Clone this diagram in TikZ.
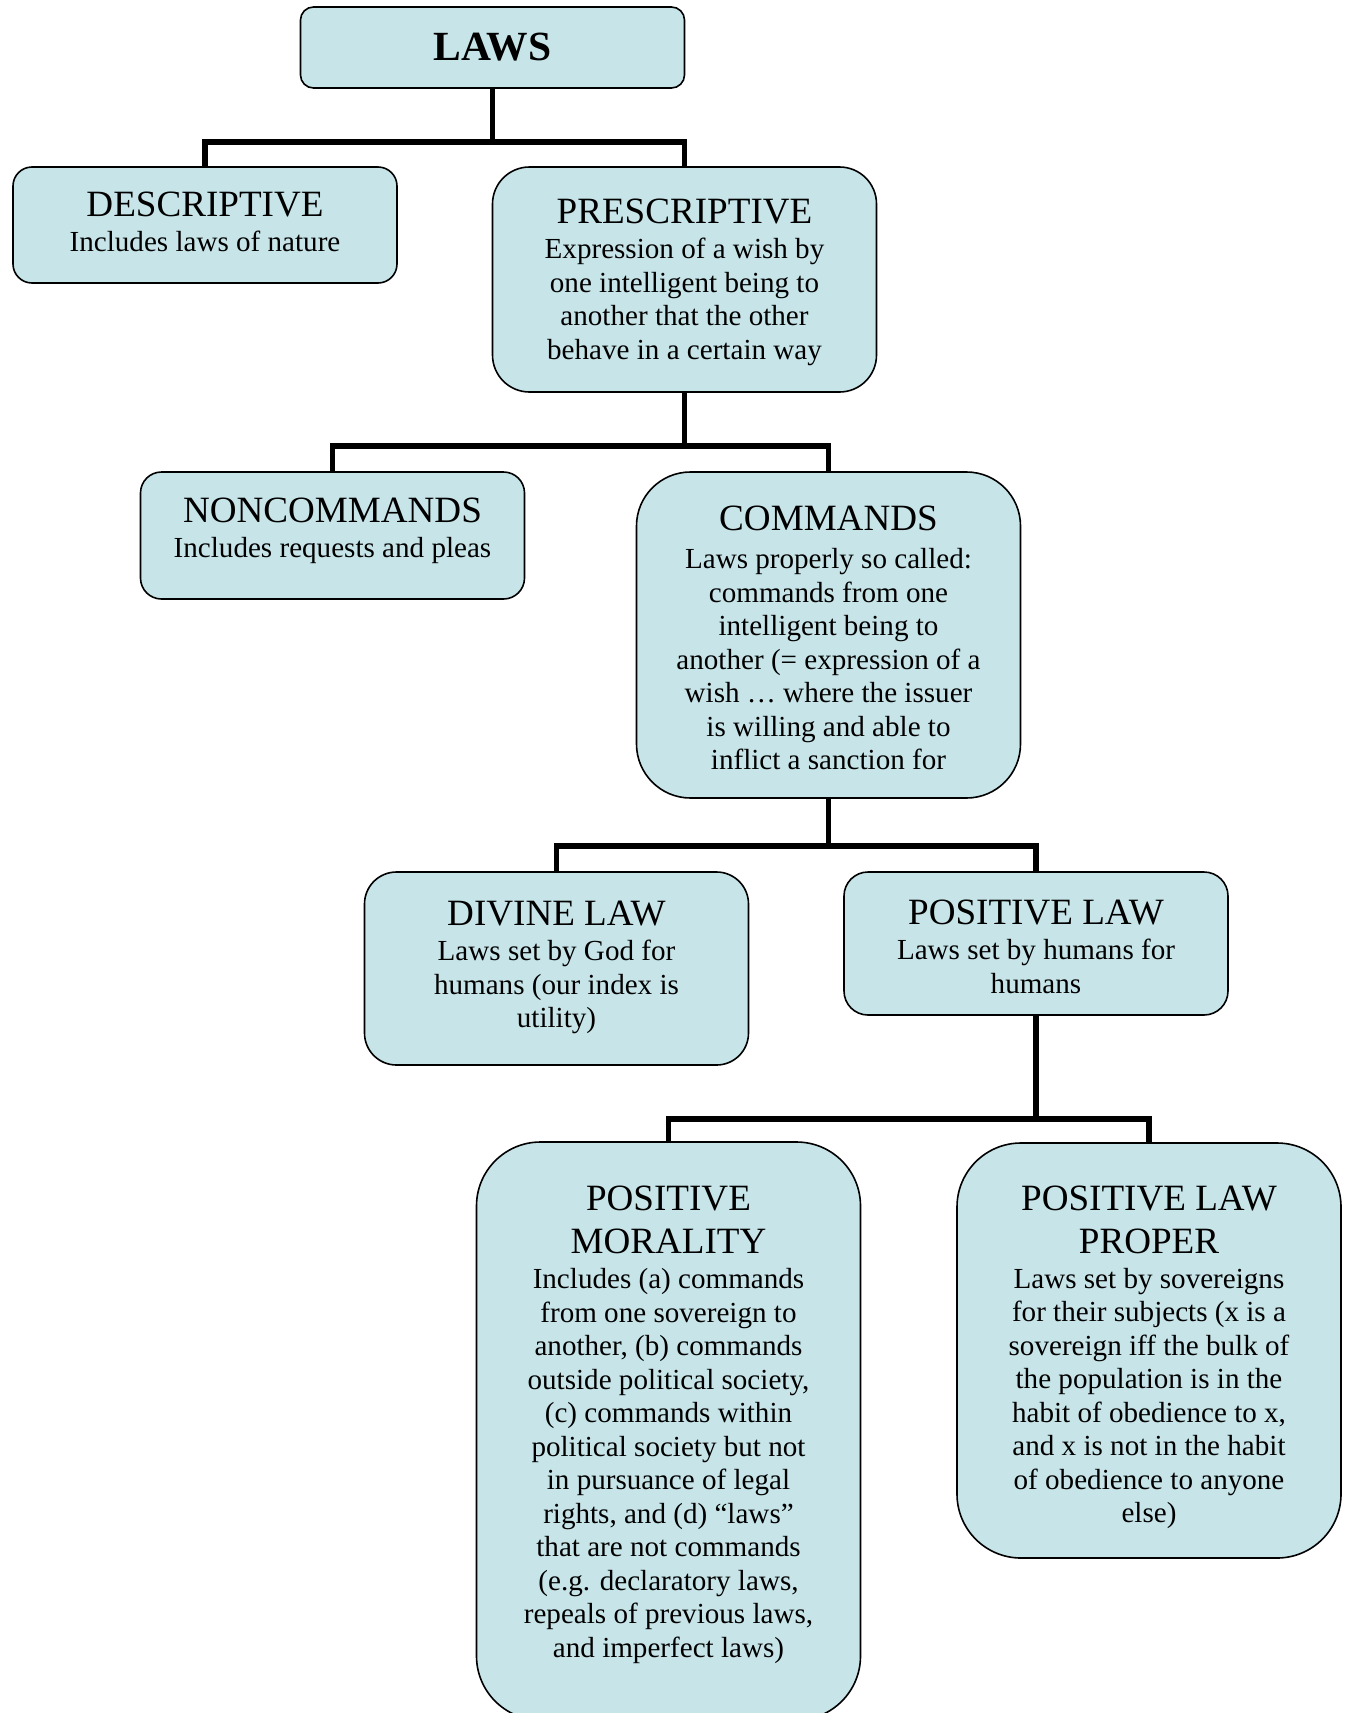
\documentclass[tikz,border=0pt]{standalone}
\usepackage{fontspec}
\setmainfont{Liberation Serif}
\usepackage{xcolor}
\usepackage{tikz}
\definecolor{boxblue}{RGB}{199,229,233}
\newcommand{\lawsfont}{\fontsize{41.5}{47}\selectfont\bfseries}
\newcommand{\headfont}{\fontsize{37.1}{42.7}\selectfont}
\newcommand{\bodyfont}{\fontsize{29.1}{33.5}\selectfont}

\begin{document}
\begin{tikzpicture}[x=1pt,y=-1pt,
  box/.style={draw=black,line width=1.6pt,fill=boxblue,inner sep=0pt,outer sep=0pt,minimum width=384pt},
  txt/.style={align=center,inner sep=0pt,anchor=north,font=\bodyfont},
  link/.style={line width=5.5pt}]
  \useasboundingbox (0,0) rectangle (1346,1713);
  % boxes
  \node[box,minimum height=81pt,rounded corners=13pt,font=\lawsfont] (laws) at (492.5,47.5) {LAWS};
  \node[box,minimum height=116pt,rounded corners=19pt] (desc) at (205,225) {};
  \node[box,minimum height=225pt,rounded corners=37pt] (presc) at (684.5,279.5) {};
  \node[box,minimum height=127pt,rounded corners=21pt] (noncmd) at (332.5,535.5) {};
  \node[box,minimum height=326pt,rounded corners=54pt] (cmd) at (828.5,635) {};
  \node[box,minimum height=193pt,rounded corners=32pt] (divine) at (556.5,968.5) {};
  \node[box,minimum height=143pt,rounded corners=24pt] (poslaw) at (1036,943.5) {};
  \node[box,minimum height=578pt,rounded corners=64pt] (posmor) at (668.5,1431) {};
  \node[box,minimum height=415pt,rounded corners=64pt] (plp) at (1149,1350.5) {};
  % texts
  \node[txt] (desc-t) at ([yshift=-24.7pt]desc.north) {{\headfont DESCRIPTIVE}\\[2pt]
    Includes laws of nature};
  \node[txt] (presc-t) at ([yshift=-31.7pt]presc.north) {{\headfont PRESCRIPTIVE}\\[2pt]
    Expression of a wish by\\ one intelligent being to\\ another that the other\\ behave in a certain way};
  \node[txt] (noncmd-t) at ([yshift=-25.7pt]noncmd.north) {{\headfont NONCOMMANDS}\\[2pt]
    Includes requests and pleas};
  \node[txt] (cmd-t) at ([yshift=-33.7pt]cmd.north) {{\headfont COMMANDS}\\[5pt]
    Laws properly so called:\\ commands from one\\ intelligent being to\\ another (= expression of a\\
    wish … where the issuer\\ is willing and able to\\ inflict a sanction for};
  \node[txt] (divine-t) at ([yshift=-28.7pt]divine.north) {{\headfont DIVINE LAW}\\[2pt]
    Laws set by God for\\ humans (our index is\\ utility)};
  \node[txt] (poslaw-t) at ([yshift=-27.7pt]poslaw.north) {{\headfont POSITIVE LAW}\\[2pt]
    Laws set by humans for\\ humans};
  \node[txt] (posmor-t) at ([yshift=-43.9pt]posmor.north) {{\headfont POSITIVE}\\[9.2pt]{\headfont MORALITY}\\[2pt]
    Includes (a) commands\\ from one sovereign to\\ another, (b) commands\\ outside political society,\\
    (c) commands within\\ political society but not\\ in pursuance of legal\\ rights, and (d) “laws”\\
    that are not commands\\ (e.g. declaratory laws,\\ repeals of previous laws,\\ and imperfect laws)};
  \node[txt] (plp-t) at ([yshift=-42.7pt]plp.north) {{\headfont POSITIVE LAW}\\[9.2pt]{\headfont PROPER}\\[1.5pt]
    Laws set by sovereigns\\ for their subjects (x is a\\ sovereign iff the bulk of\\ the population is in the\\
    habit of obedience to x,\\ and x is not in the habit\\ of obedience to anyone\\ else)};
  % connectors
  \coordinate (j1) at ([yshift=-54pt]laws.south);
  \coordinate (j2) at ([yshift=-54pt]presc.south);
  \coordinate (j3) at ([yshift=-48pt]cmd.south);
  \coordinate (j4) at ([yshift=-104pt]poslaw.south);
  \draw[link] (laws.south) -- (j1);
  \draw[link] (desc.north) |- (j1) -| (presc.north);
  \draw[link] (presc.south) -- (j2);
  \draw[link] (noncmd.north) |- (j2) -| (cmd.north);
  \draw[link] (cmd.south) -- (j3);
  \draw[link] (divine.north) |- (j3) -| (poslaw.north);
  \draw[link] (poslaw.south) -- (j4);
  \draw[link] (posmor.north) |- (j4) -| (plp.north);
\end{tikzpicture}
\end{document}
